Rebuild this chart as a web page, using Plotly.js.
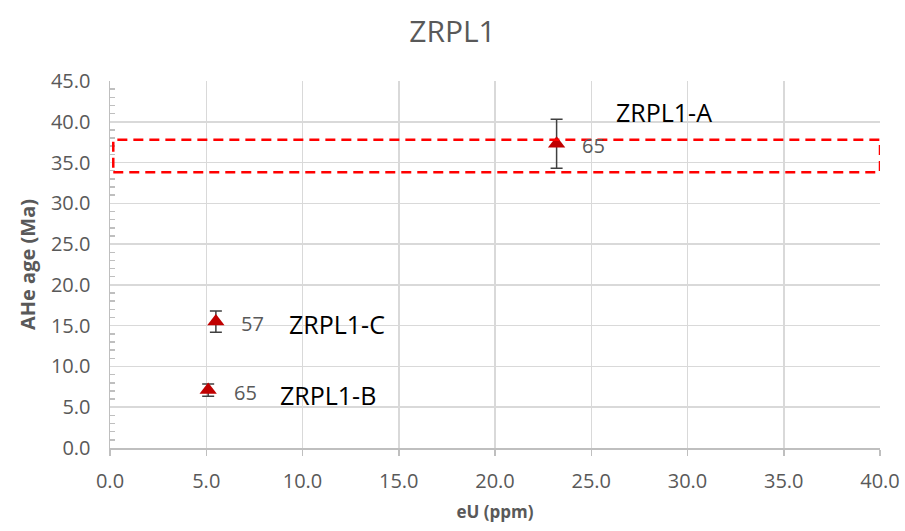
<!DOCTYPE html>
<html><head><meta charset="utf-8">
<script src="https://cdn.plot.ly/plotly-3.0.1.min.js"></script>
<style>html,body{margin:0;padding:0;background:#fff}#chart{width:905px;height:531px}</style>
</head><body><div id="chart"></div>
<script>
var sampleNames = ["ZRPL1-A", "ZRPL1-B", "ZRPL1-C"];
var eU = [23.2, 5.1, 5.5];
var ageMa = [37.3, 7.1, 15.5];
var ageErr = [3.0, 0.75, 1.3];
var grainLabels = ["65", "65", "57"];
var nameX = [28.78, 11.34, 11.78];
var nameY = [41.23, 6.5, 15.2];
var boxX = [0.17, 40];
var boxY = [33.8, 37.8];

var grey = "#595959";
var font = "Open Sans, Noto Sans, sans-serif";

var trace = {
  x: eU, y: ageMa, type: "scatter", mode: "markers",
  marker: {symbol: "triangle-up", size: 15, color: "#c00000"},
  error_y: {type: "data", array: ageErr, visible: true, color: "#404040", thickness: 1.5, width: 6},
  hoverinfo: "x+y", showlegend: false
};

var annotations = [];
for (var i = 0; i < eU.length; i++) {
  annotations.push({x: eU[i], y: ageMa[i], xref: "x", yref: "y", text: grainLabels[i],
    showarrow: false, xshift: 37, yshift: -2, font: {family: font, size: 20, color: grey}});
  annotations.push({x: nameX[i], y: nameY[i], xref: "x", yref: "y", text: sampleNames[i],
    showarrow: false, font: {family: font, size: 25, color: "#000"}});
}

var layout = {
  width: 905, height: 531,
  margin: {l: 110, r: 25, t: 81, b: 83},
  paper_bgcolor: "#fff", plot_bgcolor: "#fff",
  font: {family: font, color: grey},
  title: {text: "ZRPL1", x: 0.5, xanchor: "center", y: 1 - 31/531, yanchor: "middle", yref: "container",
    font: {family: font, size: 30, color: grey}},
  xaxis: {
    range: [0, 40], dtick: 5, tick0: 0, tickformat: ".1f",
    showgrid: true, gridcolor: "#d9d9d9", gridwidth: 1.5,
    showline: true, linecolor: "#bfbfbf", linewidth: 1.5,
    ticks: "outside", ticklen: 6, tickcolor: "#bfbfbf", tickwidth: 1.5,
    ticklabelstandoff: 8,
    zeroline: false,
    tickfont: {family: font, size: 20, color: grey},
    title: {text: "<b>eU (ppm)</b>", standoff: 13, font: {family: font, size: 17, color: grey}}
  },
  yaxis: {
    range: [0, 45], dtick: 5, tick0: 0, tickformat: ".1f",
    showgrid: true, gridcolor: "#d9d9d9", gridwidth: 1.5,
    showline: true, linecolor: "#bfbfbf", linewidth: 1.5,
    ticks: "", zeroline: false,
    ticklabelstandoff: 14,
    minor: {dtick: 1, ticks: "inside", ticklen: 5, tickcolor: "#bfbfbf", tickwidth: 1.5, showgrid: false},
    tickfont: {family: font, size: 20, color: grey},
    title: {text: "<b>AHe age (Ma)</b>", standoff: 10, font: {family: font, size: 20, color: grey}}
  },
  shapes: [{type: "rect", xref: "x", yref: "y", x0: boxX[0], x1: boxX[1], y0: boxY[0], y1: boxY[1],
    line: {color: "#ff0000", width: 2.5, dash: "10px,6px"}, fillcolor: "rgba(0,0,0,0)"}],
  annotations: annotations
};

Plotly.newPlot("chart", [trace], layout, {displayModeBar: false, staticPlot: true});
</script></body></html>
